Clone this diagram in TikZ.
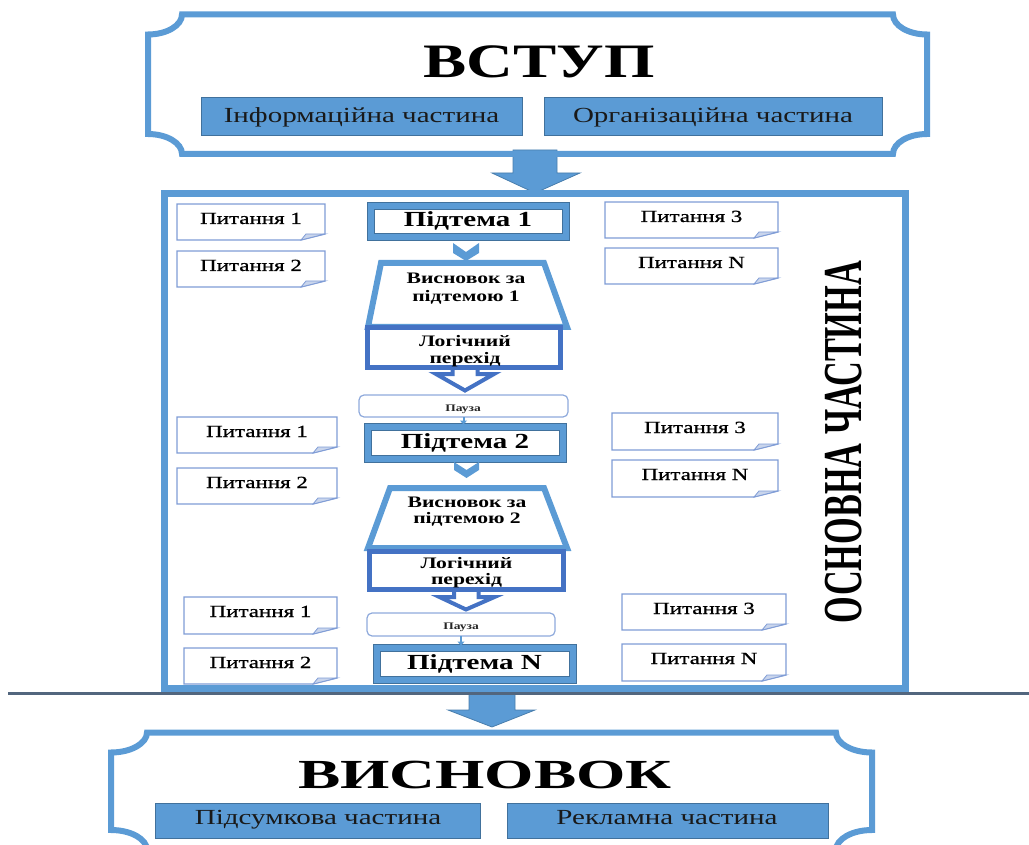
\documentclass[tikz,border=0pt]{standalone}
\usepackage{fontspec}
\setmainfont{Liberation Serif}[FakeStretch=1.35]
\newfontfamily\uprightserif{Liberation Serif}
\newfontfamily\cardfont{Liberation Serif}[FakeStretch=1.35, FakeBold=0.9]
\usetikzlibrary{calc,arrows.meta}

\definecolor{mainblue}{HTML}{5B9BD5}
\definecolor{edgeblue}{HTML}{41719C}
\definecolor{logicblue}{HTML}{4472C4}
\definecolor{cardblue}{HTML}{7F9CD6}
\definecolor{foldblue}{HTML}{C9D5EC}
\definecolor{pauseblue}{HTML}{8FAADC}
\definecolor{seamgray}{HTML}{52667E}

% plaque outline with concave corners: x1 y1 x2 y2 rx ry style
\newcommand\plaque[7]{%
  \draw[#7] (#1+#5,#2) -- (#3-#5,#2)
    .. controls (#3-#5,#2+0.55*#6) and (#3-0.55*#5,#2+#6) .. (#3,#2+#6)
    -- (#3,#4-#6)
    .. controls (#3-0.55*#5,#4-#6) and (#3-#5,#4-0.55*#6) .. (#3-#5,#4)
    -- (#1+#5,#4)
    .. controls (#1+#5,#4-0.55*#6) and (#1+0.55*#5,#4-#6) .. (#1,#4-#6)
    -- (#1,#2+#6)
    .. controls (#1+0.55*#5,#2+#6) and (#1+#5,#2+0.55*#6) .. (#1+#5,#2)
    -- cycle;}

% question card with a folded corner: name x1 y1 x2 y2 text
\newcommand\qcard[6]{%
  \node[card, minimum width={#4-#2}, minimum height={#5-#3}] (#1) at ({(#2+#4)/2},{(#3+#5)/2}) {};
  \draw[cardline] (#1.north west) -- (#1.north east) -- ([yshift=6pt]#1.south east)
    -- ([xshift=-24pt]#1.south east) -- (#1.south west) -- cycle;
  \draw[fold] ([xshift=-24pt]#1.south east) -- ([xshift=-19pt,yshift=6pt]#1.south east)
    -- ([yshift=6pt]#1.south east) -- cycle;
  \node[cardtext] (#1-t) at ([yshift=-20pt]#1.north) {#6};}

% subtopic box with a broad blue border: name x1 y1 x2 y2 text (outer edges)
\newcommand\subtopic[6]{%
  \node[topicbox, minimum width={#4-#2-7}, minimum height={#5-#3-7}] (#1) at ({(#2+#4)/2},{(#3+#5)/2}) {};
  \draw[topicedge] ([shift={(-3.5pt,3.5pt)}]#1.north west) rectangle ([shift={(3.5pt,-3.5pt)}]#1.south east);
  \draw[topicedge] ([shift={(3.5pt,-3.5pt)}]#1.north west) rectangle ([shift={(-3.5pt,3.5pt)}]#1.south east);
  \node[topictext] (#1-t) at ([yshift=-5.5pt]#1.center) {#6};}

\begin{document}
\begin{tikzpicture}[x=1pt,y=-1pt,
  plaqueline/.style={draw=mainblue, line width=6},
  frame/.style={draw=mainblue, line width=7},
  partbox/.style={draw=edgeblue, fill=mainblue, line width=1, inner sep=0, outer sep=0},
  parttext/.style={font=\fontsize{21.5}{21.5}\selectfont, text=black!90, anchor=base, inner sep=0},
  title/.style={font=\fontsize{48}{48}\selectfont\bfseries, anchor=base, inner sep=0},
  card/.style={fill=white, inner sep=0, outer sep=0},
  cardline/.style={draw=cardblue, line width=1.3, line join=miter},
  fold/.style={fill=foldblue, draw=cardblue, line width=0.8},
  cardtext/.style={font=\cardfont\fontsize{17}{17}\selectfont, anchor=base, inner sep=0},
  topicbox/.style={draw=mainblue, line width=7, fill=white, inner sep=0, outer sep=0},
  topicedge/.style={draw=edgeblue, line width=0.8},
  topictext/.style={font=\fontsize{21.5}{21.5}\selectfont\bfseries, anchor=base, inner sep=0},
  trap/.style={draw=mainblue, line width=6, fill=white, line join=miter},
  logicbox/.style={draw=logicblue, line width=5, fill=white, inner sep=0, outer sep=0},
  boldtext/.style={font=\fontsize{16}{16}\selectfont\bfseries, anchor=base, inner sep=0},
  pausebox/.style={draw=pauseblue, line width=1.2, rounded corners=5, fill=white, inner sep=0, outer sep=0},
  pausetext/.style={font=\fontsize{10}{10}\selectfont\bfseries, anchor=base, inner sep=0, text=black!85},
  blockarrow/.style={fill=mainblue, draw=edgeblue!70!mainblue, line width=0.8, line join=miter},
  chevronarrow/.style={fill=mainblue},
  hollowarrow/.style={draw=logicblue, line width=4, fill=white, line join=miter},
  smallarrow/.style={draw=mainblue, line width=2, -{Triangle[length=4pt,width=7pt]}},
]
\useasboundingbox (0,0) rectangle (1029,845);
\clip (0,0) rectangle (1029,845);

% ---------------- introduction ----------------
\draw[blockarrow] (513,150) -- (513,173) -- (492,173) -- (535,193) -- (580,173) -- (557,173) -- (557,150) -- cycle;
\plaque{148}{14.5}{927}{154}{34}{20}{plaqueline}
\node[title] (intro) at (539,78) {ВСТУП};
\node[partbox, minimum width=321, minimum height=38] (info) at (361.5,117) {};
\node[parttext] (info-t) at (361.5,123) {Інформаційна частина};
\node[partbox, minimum width=338, minimum height=38] (org) at (713,117) {};
\node[parttext] (org-t) at (713,123) {Організаційна частина};

% ---------------- main part ----------------
\draw[blockarrow] (469,688) -- (469,710) -- (448,710) -- (492,727) -- (535,710) -- (515,710) -- (515,688) -- cycle;
\draw[frame] (164,193.5) rectangle (905.5,688);
\draw[seamgray, line width=2.2] (8,693.5) -- (1029,693.5);

\node[rotate=90, inner sep=0] (mainlabel) at (844,442)
  {\scalebox{1}[1.6]{\uprightserif\bfseries\fontsize{34.3}{34.3}\selectfont ОСНОВНА ЧАСТИНА}};

% questions
\qcard{qa1}{177}{204}{325}{240}{Питання 1}
\qcard{qa2}{177}{251}{325}{287}{Питання 2}
\qcard{qa3}{605}{202}{778}{238}{Питання 3}
\qcard{qan}{605}{248}{778}{284}{Питання N}
\qcard{qb1}{177}{417}{337}{453}{Питання 1}
\qcard{qb2}{177}{468}{337}{504}{Питання 2}
\qcard{qb3}{612}{413}{778}{450}{Питання 3}
\qcard{qbn}{612}{460}{778}{497}{Питання N}
\qcard{qc1}{184}{597}{337}{634}{Питання 1}
\qcard{qc2}{184}{648}{337}{684}{Питання 2}
\qcard{qc3}{622}{594}{786}{630}{Питання 3}
\qcard{qcn}{622}{644}{786}{681}{Питання N}

% first subtopic
\subtopic{s1}{367}{202}{569}{240}{Підтема 1}
\fill[chevronarrow] (453,243) -- (466,252) -- (479,243) -- (479,253) -- (466,261) -- (453,253) -- cycle;
\draw[trap] (381,263) -- (544,263) -- (567,327) -- (368,327) -- cycle;
\node[boldtext] (c1a) at (466,284) {Висновок за};
\node[boldtext] (c1b) at (466,301.5) {підтемою 1};
\draw[hollowarrow] (452.5,360) -- (452.5,374) -- (436,374) -- (465,390.5) -- (494,374) -- (477.5,374) -- (477.5,360) -- cycle;
\node[logicbox, minimum width=193, minimum height=40] (l1) at (464,347.5) {};
\node[boldtext] (l1a) at (465,347) {Логічний};
\node[boldtext] (l1b) at (465,363) {перехід};
\node[pausebox, minimum width=209, minimum height=22] (p1) at (463.5,406) {};
\node[pausetext] (p1-t) at (463,411) {Пауза};

% second subtopic
\subtopic{s2}{364}{423}{566}{462}{Підтема 2}
\draw[smallarrow] (p1.south) -- ([yshift=2pt]p1.south |- s2.north);
\fill[chevronarrow] (454,462) -- (466.5,470) -- (479,462) -- (479,470) -- (466.5,478) -- (454,470) -- cycle;
\draw[trap] (390,488) -- (544,488) -- (567,548) -- (368,548) -- cycle;
\node[boldtext] (c2a) at (467,507) {Висновок за};
\node[boldtext] (c2b) at (467,523) {підтемою 2};
\draw[hollowarrow] (454,582) -- (454,597) -- (439.5,597) -- (466,609.5) -- (494.5,597) -- (478.5,597) -- (478.5,582) -- cycle;
\node[logicbox, minimum width=194, minimum height=38] (l2) at (466.5,570.5) {};
\node[boldtext] (l2a) at (466.5,568) {Логічний};
\node[boldtext] (l2b) at (466.5,584) {перехід};
\node[pausebox, minimum width=188, minimum height=23] (p2) at (461,624.5) {};
\node[pausetext] (p2-t) at (461,629) {Пауза};

% last subtopic
\subtopic{sn}{373}{644}{576}{683}{Підтема N}
\draw[smallarrow] (p2.south) -- ([yshift=2pt]p2.south |- sn.north);

% ---------------- conclusion ----------------
\plaque{111}{732.5}{872}{850}{36}{20}{plaqueline}
\node[title, font=\fontsize{47}{47}\selectfont\bfseries] (concl) at (485,788) {\scalebox{1}[0.88]{ВИСНОВОК}};
\node[partbox, minimum width=325, minimum height=35] (sum) at (317.5,820.5) {};
\node[parttext] (sum-t) at (318,824) {Підсумкова частина};
\node[partbox, minimum width=321, minimum height=35] (adv) at (667.5,820.5) {};
\node[parttext] (adv-t) at (667,824) {Рекламна частина};
\end{tikzpicture}
\end{document}
